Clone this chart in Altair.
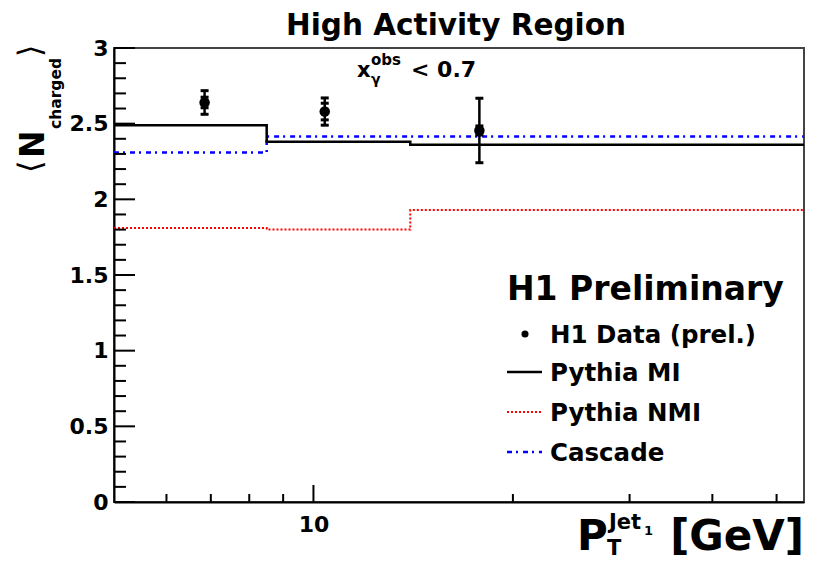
import altair as alt
import pandas as pd

# ---------------- data ----------------
bin_edges = [5.0, 8.5, 14.0, 55.0]
pythia_mi = [2.49, 2.38, 2.36]
pythia_nmi = [1.81, 1.80, 1.93]
cascade = [2.31, 2.415, 2.415]

data_pt = [6.85, 10.4, 17.8]
data_val = [2.64, 2.58, 2.455]
data_err_tot = [0.078, 0.09, 0.213]
data_err_stat = [0.035, 0.055, 0.03]

x_major_ticks = [10]
x_minor_ticks = [6, 7, 8, 9, 20, 30, 40, 50]
y_major_ticks = [0, 0.5, 1, 1.5, 2, 2.5, 3]
y_minor_ticks = [0.1, 0.2, 0.3, 0.4, 0.6, 0.7, 0.8, 0.9, 1.1, 1.2, 1.3, 1.4,
                 1.6, 1.7, 1.8, 1.9, 2.1, 2.2, 2.3, 2.4, 2.6, 2.7, 2.8, 2.9]

legend_labels = ["H1 Data (prel.)", "Pythia MI", "Pythia NMI", "Cascade"]

# ---------------- layout ----------------
W, H = 690, 454
OX, OY = 114, 48   # page position of plot origin
FONT = "DejaVu Sans"

xscale = alt.Scale(type="log", domain=[5, 55], nice=False)
yscale = alt.Scale(domain=[0, 3], nice=False, zero=False)
xaxis = alt.Axis(values=x_major_ticks, format="d", ticks=False, grid=False, title=None,
                 labelFont=FONT, labelFontWeight="bold", labelFontSize=22, labelColor="black",
                 labelPadding=12, domainColor="black", domainWidth=2, labelFlush=False)
yaxis = alt.Axis(values=y_major_ticks, format=".1~f", ticks=False, grid=False, title=None,
                 labelFont=FONT, labelFontWeight="bold", labelFontSize=22, labelColor="black",
                 labelPadding=6, domainColor="black", domainWidth=2, labelFlush=False,
                 labelOverlap=False)


def X(field):
    return alt.X(f"{field}:Q", scale=xscale, axis=xaxis)


def Y(field):
    return alt.Y(f"{field}:Q", scale=yscale, axis=yaxis)


def step_df(values):
    xs = list(bin_edges)
    ys = list(values) + [values[-1]]
    return pd.DataFrame({"x": xs, "y": ys})


dummy = pd.DataFrame({"a": [0]})


def txt(s, px, py, size, weight="bold", align="left", angle=0, font=FONT):
    return alt.Chart(dummy).mark_text(
        font=font, fontSize=size, fontWeight=weight, align=align,
        baseline="alphabetic", angle=angle, color="black"
    ).encode(x=alt.value(px - OX), y=alt.value(py - OY), text=alt.value(s))


def lrule(x1, x2, py, color, width, dash=None):
    kw = dict(color=color, strokeWidth=width)
    if dash:
        kw["strokeDash"] = dash
    return alt.Chart(dummy).mark_rule(**kw).encode(
        x=alt.value(x1 - OX), x2=alt.value(x2 - OX), y=alt.value(py - OY))


layers = []

# model step histograms
layers.append(alt.Chart(step_df(pythia_nmi)).mark_line(
    interpolate="step-after", color="#ff0000", strokeWidth=2, strokeDash=[2, 2]
).encode(x=X("x"), y=Y("y")))
layers.append(alt.Chart(step_df(cascade)).mark_line(
    interpolate="step-after", color="#0000ff", strokeWidth=2.5, strokeDash=[5, 4, 2, 5]
).encode(x=X("x"), y=Y("y")))
layers.append(alt.Chart(step_df(pythia_mi)).mark_line(
    interpolate="step-after", color="black", strokeWidth=2.5
).encode(x=X("x"), y=Y("y")))

# data points with errors
pts = pd.DataFrame({
    "x": data_pt, "y": data_val,
    "lo": [v - e for v, e in zip(data_val, data_err_tot)],
    "hi": [v + e for v, e in zip(data_val, data_err_tot)],
    "slo": [v - e for v, e in zip(data_val, data_err_stat)],
    "shi": [v + e for v, e in zip(data_val, data_err_stat)],
})
layers.append(alt.Chart(pts).mark_rule(color="black", strokeWidth=2.5).encode(
    x=X("x"), y=Y("lo"), y2="hi"))
for f in ["lo", "hi", "slo", "shi"]:
    layers.append(alt.Chart(pts).mark_tick(orient="horizontal", size=8, thickness=3,
                                           color="black", opacity=1).encode(x=X("x"), y=Y(f)))
layers.append(alt.Chart(pts).mark_point(filled=True, shape="circle", size=110,
                                        color="black", opacity=1).encode(x=X("x"), y=Y("y")))

# inward ticks
layers.append(alt.Chart(pd.DataFrame({"x": x_major_ticks})).mark_rule(
    color="black", strokeWidth=2).encode(x=X("x"), y=alt.value(H), y2=alt.value(H - 17)))
layers.append(alt.Chart(pd.DataFrame({"x": x_minor_ticks})).mark_rule(
    color="black", strokeWidth=2).encode(x=X("x"), y=alt.value(H), y2=alt.value(H - 8)))
layers.append(alt.Chart(pd.DataFrame({"y": y_major_ticks})).mark_rule(
    color="black", strokeWidth=2).encode(y=Y("y"), x=alt.value(0), x2=alt.value(21)))
layers.append(alt.Chart(pd.DataFrame({"y": y_minor_ticks})).mark_rule(
    color="black", strokeWidth=2).encode(y=Y("y"), x=alt.value(0), x2=alt.value(12)))

# title and annotation
layers.append(txt("High Activity Region", 456, 35, 29.5, align="center"))
layers.append(txt("x", 357, 77, 21))
layers.append(txt("obs", 371, 65, 15))
layers.append(txt("γ", 371, 84, 14))
layers.append(txt("< 0.7", 411, 77, 22))

# legend
layers.append(txt("H1 Preliminary", 507, 300, 33))
legend_base = [343, 381, 421, 461]
for lab, b in zip(legend_labels, legend_base):
    layers.append(txt(lab, 550, b, 24.5))
layers.append(alt.Chart(dummy).mark_point(filled=True, shape="circle", size=50, color="black",
                                          opacity=1).encode(x=alt.value(525 - OX), y=alt.value(334 - OY)))
layers.append(lrule(507, 542, 372, "black", 2.5))
layers.append(lrule(507, 542, 412, "#ff0000", 2, [2, 2]))
layers.append(lrule(507, 542, 452, "#0000ff", 2.5, [5, 4, 2, 5]))

# x-axis title  P_T^{Jet_1} [GeV]
layers.append(txt("P", 577, 550, 42))
layers.append(txt("T", 607, 555, 21))
layers.append(txt("Jet", 609, 529, 21))
layers.append(txt("1", 644, 535, 13))
layers.append(txt("[GeV]", 804, 550, 42, align="right"))

# y-axis title  <N_charged>
layers.append(txt("⟨", 173, 41, 32, weight="normal", angle=270).encode(
    x=alt.value(41 - OX), y=alt.value(173 - OY)))
layers.append(txt("N", 158, 44, 33, angle=270).encode(
    x=alt.value(44 - OX), y=alt.value(158 - OY)))
layers.append(txt("charged", 129, 61, 15.5, angle=270).encode(
    x=alt.value(61 - OX), y=alt.value(129 - OY)))
layers.append(txt("⟩", 57, 41, 32, weight="normal", angle=270).encode(
    x=alt.value(41 - OX), y=alt.value(57 - OY)))

chart = alt.layer(*layers).properties(
    width=W, height=H,
    autosize=alt.AutoSizeParams(type="none"),
    padding={"left": OX - 8, "top": OY - 8, "right": 2, "bottom": 554 - (OY - 8) - H},
    background="white",
).configure_view(stroke="#444", strokeWidth=2)

chart.save("out.html", embed_options={"renderer": "svg", "actions": False})
